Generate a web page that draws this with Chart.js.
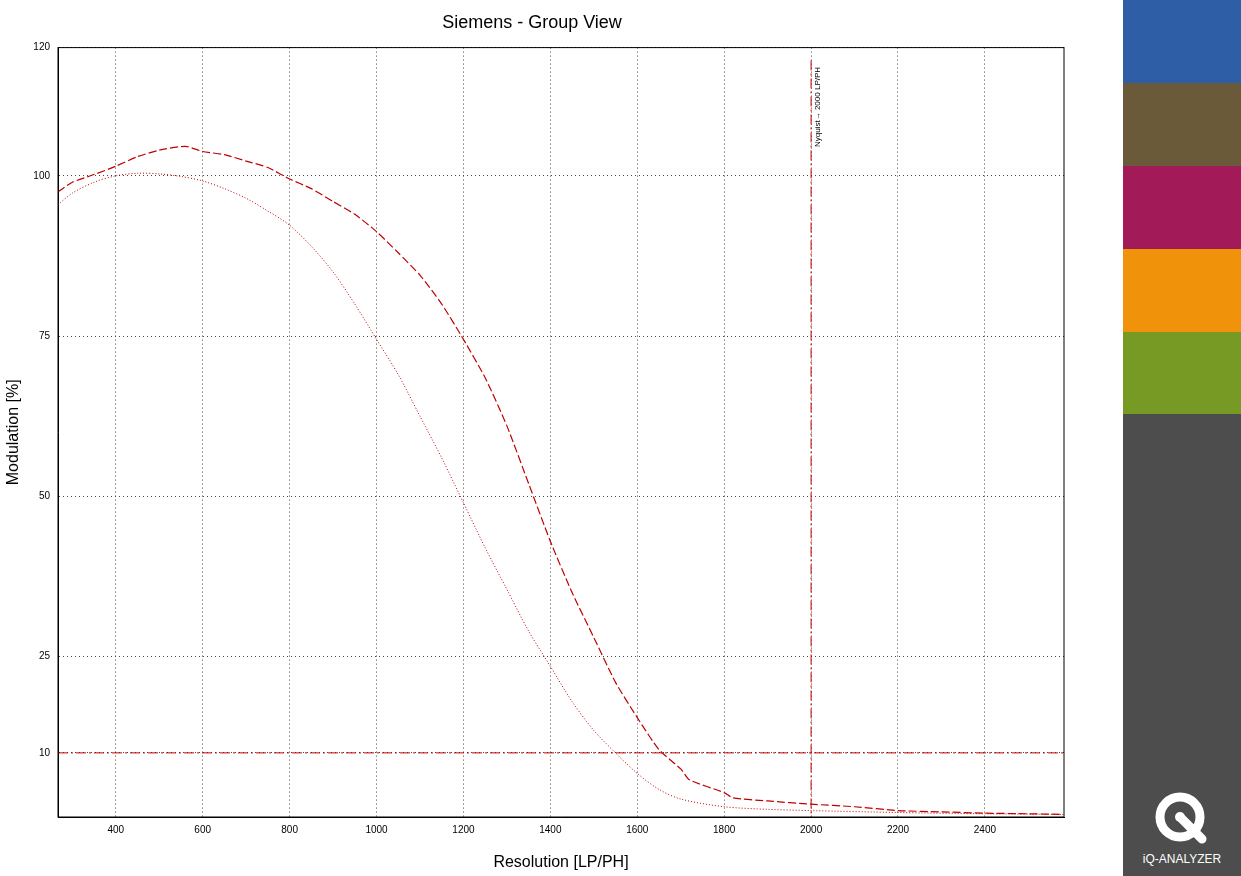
<!DOCTYPE html>
<html><head><meta charset="utf-8">
<script src="https://cdn.jsdelivr.net/npm/chart.js@4/dist/chart.umd.min.js"></script>
<style>
body{margin:0;background:#fff;font-family:"Liberation Sans",Arial,sans-serif;}
#wrap{position:absolute;left:0;top:0;width:1110px;height:876px;}
#side{position:absolute;left:1123px;top:0;width:118px;height:876px;}
#side div{width:118px;}
#logo{position:absolute;bottom:10px;width:118px;text-align:center;color:#fff;font-size:12px;}
</style></head><body>
<div id="wrap"><canvas id="c" width="1110" height="876"></canvas></div>
<div id="side">
<div style="height:83px;background:#2e5ea6"></div>
<div style="height:83px;background:#6b5a3a"></div>
<div style="height:83px;background:#a31a58"></div>
<div style="height:83px;background:#f0920a"></div>
<div style="height:82px;background:#779a24"></div>
<div style="height:462px;background:#4d4d4d;position:relative">
<div id="logo"><svg width="60" height="60" viewBox="0 0 60 60"><circle cx="28" cy="28" r="20" fill="none" stroke="#fff" stroke-width="9"/><circle cx="28" cy="28" r="5" fill="#fff"/><line x1="30" y1="30" x2="50" y2="50" stroke="#fff" stroke-width="9" stroke-linecap="round"/></svg><br>iQ-ANALYZER</div>
</div></div>
<script>
const dashX = [267,300,350,400,450,500,560,600,650,700,750,800,850,900,950,1000,1050,1100,1150,1200,1250,1300,1350,1400,1450,1500,1550,1600,1650,1700,1720,1800,1820,1900,2000,2100,2200,2300,2400,2500,2580];
const dashY = [97.5,99,100.2,101.5,103,104,104.6,103.8,103.3,102.3,101.3,99.5,98,96,94,91.3,88,84.5,80,74.5,68.5,61,52,43,35,28,21,15.5,10.5,7.5,5.8,3.8,3,2.5,2.0,1.6,1.0,0.8,0.6,0.5,0.4];
const dotX = [267,300,350,400,450,500,550,600,650,700,750,800,850,900,950,1000,1050,1100,1150,1200,1250,1300,1350,1400,1450,1500,1550,1600,1650,1700,1800,1900,2000,2200,2400,2580];
const dotY = [95.5,97.3,99,100,100.4,100.3,99.9,99.2,98,96.5,94.5,92.3,89,85,80,74.5,69,62.5,56,49,42,35.5,29,23.5,18,13.5,10,6.8,4.3,2.8,1.6,1.2,1.0,0.7,0.5,0.4];
const xTicks = [400,600,800,1000,1200,1400,1600,1800,2000,2200,2400];
const yTicks = [10,25,50,75,100,120];
const xMin = 267, xMax = 2582, nyquist = 2000;

const pts = (xs, ys) => xs.map((x, i) => ({x, y: ys[i]}));
const guides = {
  id: 'guides',
  afterDatasetsDraw(ch) {
    const {ctx, scales: {x, y}} = ch;
    ctx.save();
    ctx.strokeStyle = '#c00000'; ctx.lineWidth = 1; ctx.setLineDash([10, 3, 2, 3]);
    ctx.beginPath(); ctx.moveTo(x.left, y.getPixelForValue(10)); ctx.lineTo(x.right, y.getPixelForValue(10)); ctx.stroke();
    const nx = x.getPixelForValue(nyquist);
    ctx.beginPath(); ctx.moveTo(nx, y.getPixelForValue(118)); ctx.lineTo(nx, y.bottom); ctx.stroke();
    ctx.setLineDash([]);
    ctx.translate(nx + 7, y.getPixelForValue(104.5)); ctx.rotate(-Math.PI / 2);
    ctx.fillStyle = '#000'; ctx.font = '8px "Liberation Sans"'; ctx.textBaseline = 'middle';
    ctx.fillText('Nyquist\u2192 2000 LP/PH', 0, 0);
    ctx.restore();
  }
};
new Chart(document.getElementById('c'), {
  type: 'scatter',
  data: { datasets: [
    { data: pts(dashX, dashY), showLine: true, borderColor: '#c00000', borderWidth: 1.2, borderDash: [8, 3], pointRadius: 0, tension: 0.2 },
    { data: pts(dotX, dotY), showLine: true, borderColor: '#c00000', borderWidth: 1, borderDash: [1, 2], pointRadius: 0, tension: 0.3 }
  ]},
  options: {
    responsive: false, animation: false, devicePixelRatio: 1,
    layout: { padding: { top: 0, right: 46, left: 0, bottom: 0 } },
    plugins: {
      legend: { display: false }, tooltip: { enabled: false },
      title: { display: true, text: 'Siemens - Group View', color: '#000', font: { size: 18, family: 'Liberation Sans', weight: 'normal' }, padding: { top: 12, bottom: 14 } }
    },
    scales: {
      x: { type: 'linear', min: xMin, max: xMax,
        afterBuildTicks: a => { a.ticks = xTicks.map(v => ({value: v})); },
        afterFit: a => { a.height = 59; },
        grid: { color: '#444', drawTicks: false }, border: { color: '#000', dash: [1, 3] },
        ticks: { color: '#000', font: { size: 10 }, padding: 7, maxRotation: 0, callback: v => String(v) },
        title: { display: true, text: 'Resolution [LP/PH]', color: '#000', font: { size: 16, family: 'Liberation Sans' }, padding: { top: 6 } } },
      y: { min: 0, max: 120,
        afterBuildTicks: a => { a.ticks = yTicks.map(v => ({value: v})); },
        afterFit: a => { a.width = 58; },
        grid: { color: '#444', drawTicks: false }, border: { color: '#000', dash: [1, 3] },
        ticks: { color: '#000', font: { size: 10 }, padding: 8 },
        title: { display: true, text: 'Modulation [%]', color: '#000', font: { size: 16, family: 'Liberation Sans' }, padding: { bottom: 2 } } }
    }
  },
  plugins: [guides, {
    id: 'frame',
    afterDraw(ch) {
      const {ctx, chartArea: a} = ch;
      ctx.save(); ctx.strokeStyle = '#000'; ctx.lineWidth = 1; ctx.strokeRect(a.left, a.top, a.right - a.left, a.bottom - a.top); ctx.restore();
    }
  }]
});
</script>
</body></html>
